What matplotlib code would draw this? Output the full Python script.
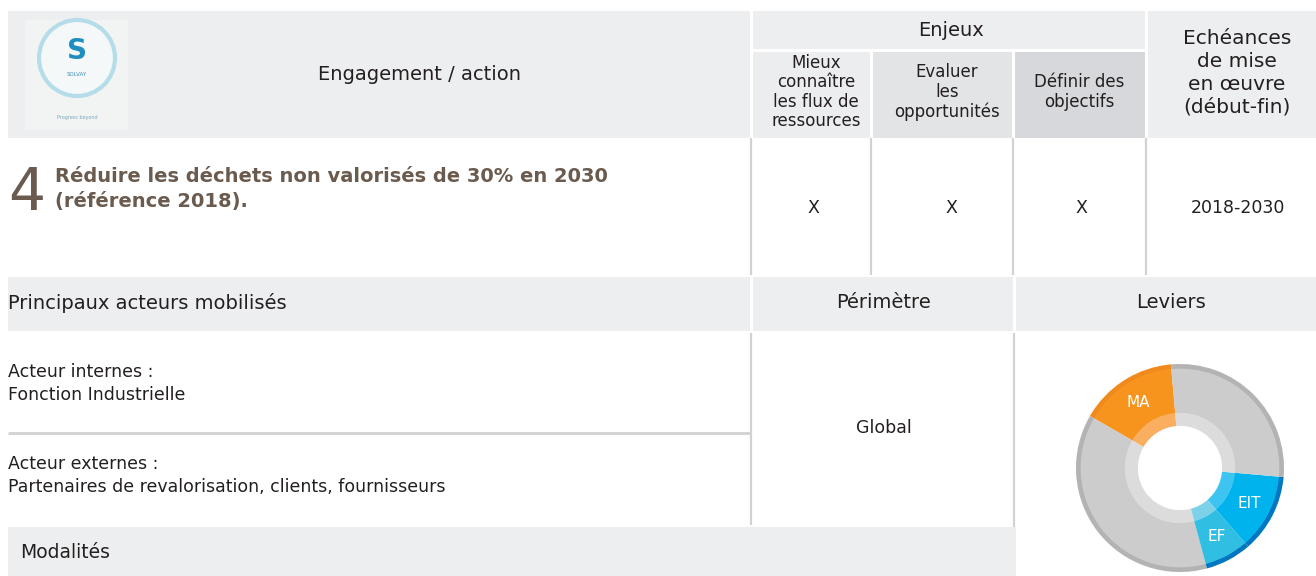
import matplotlib
matplotlib.use("Agg")
import matplotlib.pyplot as plt
from matplotlib.patches import Rectangle, Circle

# --- données du tableau ---
ENJEUX = ["Mieux\nconnaître\nles flux de\nressources", "Evaluer\nles\nopportunités", "Définir des\nobjectifs"]
ENJEUX_MARKS = ["X", "X", "X"]
ECHEANCE = "2018-2030"
NUMERO = "4"
TITRE = ["Réduire les déchets non valorisés de 30% en 2030", "(référence 2018)."]
ACTEURS = [("Acteur internes :", "Fonction Industrielle"),
           ("Acteur externes :", "Partenaires de revalorisation, clients, fournisseurs")]
PERIMETRE = "Global"

# leviers (anneau) : étiquettes, étendue en degrés, couleurs
LEVIER_LABELS = ["MA", "", "EF", "EIT", ""]
LEVIER_DEG = [55, 135, 26, 44, 100]
LEVIER_MAIN = ["#F7941D", "#CCCCCC", "#30BFE2", "#00B3EC", "#CCCCCC"]
LEVIER_RIM = ["#F18A1C", "#B3B3B3", "#0077C0", "#0077C0", "#B3B3B3"]
LEVIER_INNER = ["#F9AE60", "#DCDCDC", "#7DD2EA", "#3DC4F1", "#DCDCDC"]

FONT = "DejaVu Sans"
BG = "#EDEEF0"
LINE = "#D2D2D2"
DARK = "#231F20"
BROWN = "#6B5B4E"

W, H = 1316, 576
fig = plt.figure(figsize=(W / 100, H / 100), dpi=100)
ax = fig.add_axes([0, 0, 1, 1])
ax.set_xlim(0, W)
ax.set_ylim(H, 0)
ax.axis("off")


def cell(x0, y0, x1, y1, color=BG):
    ax.add_patch(Rectangle((x0, y0), x1 - x0, y1 - y0, facecolor=color, edgecolor="none"))


def txt(x, y, s, size, ha="center", **kw):
    kw.setdefault("color", DARK)
    ax.text(x, y, s, fontsize=size, ha=ha, va="center", family=FONT, **kw)


# en-tête
cell(8, 11, 750, 138)
cell(753, 11, 1145, 49)
sub_x = [(753, 870), (873, 1012), (1015, 1145)]
sub_col = ["#ECEDEF", "#E3E4E6", "#D6D8DC"]
for (x0, x1), c in zip(sub_x, sub_col):
    cell(x0, 52, x1, 138, c)
cell(1148, 11, 1316, 138)

# ligne 3 / modalités
cell(8, 277, 750, 331)
cell(753, 277, 1013, 331)
cell(1016, 277, 1316, 331)
cell(8, 527, 1016, 576)

# séparateurs
lw = 1.6
for x in [751, 871, 1013, 1146]:
    ax.plot([x, x], [138, 275], color=LINE, lw=lw, solid_capstyle="butt")
ax.plot([751, 751], [333, 525], color=LINE, lw=lw, solid_capstyle="butt")
ax.plot([1014, 1014], [333, 527], color=LINE, lw=lw, solid_capstyle="butt")
ax.plot([8, 750], [433, 433], color=LINE, lw=2, solid_capstyle="butt")

# logo
cell(25, 20, 128, 130, "#F2F4F4")
ax.add_patch(Circle((77, 58), 38, facecolor="#F4F8F9", edgecolor="#B5DDE9", lw=3))
txt(77, 51, "S", 20, fontweight="bold", color="#1E8DBF")
txt(77, 75, "SOLVAY", 4, color="#3C8FB5")
txt(77, 118, "Progress beyond", 3.5, color="#7AA6BA")

# textes en-tête
txt(420, 75, "Engagement / action", 14)
txt(951, 30, "Enjeux", 14)
head_x = [816, 947, 1079]
for x, t in zip(head_x, ENJEUX):
    txt(x, 92, t, 12, linespacing=1.1)
txt(1237, 73, "Echéances\nde mise\nen œuvre\n(début-fin)", 14.5, linespacing=1.25)

# ligne engagement
txt(8, 193, NUMERO, 42, ha="left", color=BROWN)
for i, line in enumerate(TITRE):
    txt(55, 176 + 25 * i, line, 14, ha="left", fontweight="bold", color=BROWN)
mark_x = [813, 951, 1081]
for x, m in zip(mark_x, ENJEUX_MARKS):
    txt(x, 208, m, 12.5)
txt(1238, 208, ECHEANCE, 12.5)

# ligne 3
txt(8, 303, "Principaux acteurs mobilisés", 14, ha="left")
txt(883, 303, "Périmètre", 14)
txt(1171, 303, "Leviers", 14)

for i, (head, body) in enumerate(ACTEURS):
    y = 372 + 92 * i
    txt(8, y, head, 12.5, ha="left")
    txt(8, y + 23, body, 12.5, ha="left")
txt(884, 428, PERIMETRE, 12.5)
txt(20, 552, "Modalités", 13.5, ha="left")

# anneau des leviers
cx, cy, r = 1180, 468, 104
pax = fig.add_axes([(cx - r) / W, (H - cy - r) / H, 2 * r / W, 2 * r / H])
pax.pie(LEVIER_DEG, colors=LEVIER_RIM, radius=1.0, wedgeprops=dict(width=0.05, linewidth=0),
        startangle=95, counterclock=True)
wedges, texts = pax.pie(LEVIER_DEG, colors=LEVIER_MAIN, radius=0.955, labels=LEVIER_LABELS,
                        labeldistance=0.78, startangle=95, counterclock=True,
                        wedgeprops=dict(width=0.43, linewidth=0),
                        textprops=dict(color="white", fontsize=11, family=FONT))
for t in texts:
    t.set_ha("center")
    t.set_va("center")
pax.pie(LEVIER_DEG, colors=LEVIER_INNER, radius=0.53, wedgeprops=dict(width=0.125, linewidth=0),
        startangle=95, counterclock=True)
pax.set_xlim(-1, 1)
pax.set_ylim(-1, 1)
pax.set_aspect("equal")
pax.axis("off")

fig.savefig("out.png", dpi=100, facecolor="white")
